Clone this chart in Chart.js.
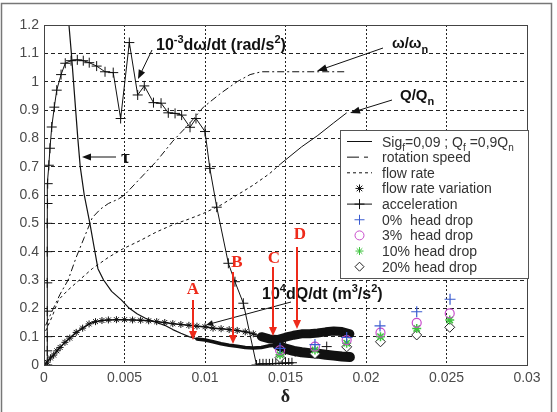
<!DOCTYPE html>
<html>
<head>
<meta charset="utf-8">
<script src="https://cdn.jsdelivr.net/npm/chart.js@4.4.1/dist/chart.umd.min.js"></script>
<style>
  body { margin: 0; background: #fff; }
  #wrap { position: relative; width: 557px; height: 412px; }
</style>
</head>
<body>
<div id="wrap"><canvas id="myChart"></canvas></div>
<script>
// axis ticks
var xTicks = [0, 0.005, 0.01, 0.015, 0.02, 0.025, 0.03];
var xTickLabels = ["0", "0.005", "0.01", "0.015", "0.02", "0.025", "0.03"];
var yTicks = [0, 0.1, 0.2, 0.3, 0.4, 0.5, 0.6, 0.7, 0.8, 0.9, 1, 1.1, 1.2];
var yTickLabels = ["0", "0.1", "0.2", "0.3", "0.4", "0.5", "0.6", "0.7", "0.8", "0.9", "1", "1.1", "1.2"];

// series, [delta, value]
var tauPts = [
  [0.00155, 1.2], [0.0017, 1.1], [0.0019, 0.95], [0.0021, 0.8], [0.00225, 0.7], [0.0025, 0.6],
  [0.00285, 0.5], [0.0031, 0.42], [0.00335, 0.34], [0.0037, 0.3], [0.0042, 0.26], [0.0048, 0.23],
  [0.0053, 0.2], [0.0058, 0.18], [0.0063, 0.165], [0.007, 0.15], [0.0075, 0.14], [0.008, 0.125],
  [0.0085, 0.112], [0.009, 0.1], [0.0095, 0.092], [0.01, 0.088], [0.0105, 0.082], [0.011, 0.075],
  [0.0115, 0.07], [0.012, 0.066], [0.0125, 0.062], [0.013, 0.06], [0.0135, 0.062], [0.014, 0.068],
  [0.0145, 0.07], [0.015, 0.058], [0.0155, 0.05], [0.016, 0.045], [0.0165, 0.042], [0.017, 0.04],
  [0.0175, 0.036], [0.018, 0.033], [0.0185, 0.03], [0.019, 0.028]
];
var rotationPts = [
  [0.0001, 0.14], [0.0005, 0.19], [0.001, 0.25], [0.0015, 0.3], [0.002, 0.38], [0.0025, 0.45],
  [0.003, 0.52], [0.0035, 0.55], [0.004, 0.57], [0.0046, 0.585], [0.005, 0.6], [0.006, 0.66],
  [0.007, 0.72], [0.008, 0.79], [0.009, 0.85], [0.0099, 0.91], [0.011, 0.96], [0.012, 1.0],
  [0.0128, 1.025], [0.0135, 1.035], [0.0188, 1.035]
];
var flowPts = [
  [0.0001, 0.12], [0.0005, 0.17], [0.0009, 0.23], [0.0015, 0.265], [0.0022, 0.3], [0.003, 0.34],
  [0.004, 0.38], [0.0049, 0.41], [0.006, 0.44], [0.007, 0.47], [0.008, 0.495], [0.009, 0.515],
  [0.0099, 0.535], [0.011, 0.565], [0.012, 0.6], [0.013, 0.635], [0.014, 0.675], [0.0147, 0.71],
  [0.016, 0.77], [0.017, 0.81], [0.018, 0.855], [0.0188, 0.89]
];
var flowVarPts = [
  [0, 0], [0.0002, 0.01], [0.0004, 0.025], [0.0006, 0.035], [0.0008, 0.05], [0.001, 0.062],
  [0.0013, 0.08], [0.0016, 0.095], [0.002, 0.115], [0.0024, 0.13], [0.0028, 0.145], [0.0032, 0.153],
  [0.0036, 0.157], [0.004, 0.159], [0.0045, 0.16], [0.005, 0.16], [0.0055, 0.159], [0.006, 0.158],
  [0.0065, 0.156], [0.007, 0.153], [0.0075, 0.15], [0.008, 0.146], [0.0085, 0.143], [0.009, 0.14],
  [0.0095, 0.137], [0.01, 0.135], [0.0105, 0.13], [0.011, 0.128], [0.0115, 0.125], [0.012, 0.122],
  [0.0125, 0.117], [0.013, 0.11], [0.0135, 0.1], [0.014, 0.092], [0.0145, 0.09], [0.015, 0.098],
  [0.0155, 0.105], [0.016, 0.11], [0.0165, 0.11], [0.017, 0.113], [0.0175, 0.117], [0.018, 0.12],
  [0.0185, 0.118], [0.019, 0.11]
];
var accelPts = [
  [0.0002, 0.0], [0.0002, 0.05], [0.0002, 0.1], [0.0002, 0.19], [0.0002, 0.29], [0.0002, 0.4],
  [0.0002, 0.5], [0.00022, 0.57], [0.00023, 0.64], [0.0003, 0.705], [0.00037, 0.765], [0.00048, 0.84],
  [0.00064, 0.91], [0.00079, 0.97], [0.00106, 1.025], [0.00132, 1.065], [0.00168, 1.074], [0.00207, 1.077],
  [0.00244, 1.074], [0.00281, 1.067], [0.00327, 1.055], [0.00379, 1.035], [0.0043, 1.032], [0.00476, 0.87],
  [0.0053, 1.138], [0.00582, 0.953], [0.00623, 0.985], [0.0068, 0.926], [0.00727, 0.924], [0.00772, 0.89],
  [0.00814, 0.888], [0.00855, 0.882], [0.00907, 0.839], [0.00944, 0.87], [0.01, 0.824], [0.0103, 0.694],
  [0.01073, 0.557], [0.01145, 0.359], [0.01186, 0.294], [0.01238, 0.218], [0.0132, 0.0],
  [0.0134, 0.004], [0.0136, 0.004], [0.0138, 0.004], [0.014, 0.004], [0.0142, 0.005], [0.0144, 0.005],
  [0.0146, 0.006], [0.0148, 0.006], [0.015, 0.007], [0.0152, 0.007], [0.0154, 0.008],
  [0.0156, 0.047], [0.01756, 0.065]
];
var drop0Pts = [[0.01466, 0.059], [0.01683, 0.072], [0.0188, 0.097], [0.02087, 0.138], [0.02315, 0.188], [0.02522, 0.232]];
var drop3Pts = [[0.01466, 0.052], [0.01683, 0.065], [0.0188, 0.088], [0.0209, 0.114], [0.02315, 0.149], [0.0252, 0.182]];
var drop10Pts = [[0.01466, 0.036], [0.01683, 0.053], [0.0188, 0.077], [0.0209, 0.1], [0.02315, 0.129], [0.0252, 0.159]];
var drop20Pts = [[0.01466, 0.026], [0.01683, 0.04], [0.0188, 0.064], [0.0209, 0.082], [0.02315, 0.106], [0.0252, 0.133]];

var legendLabels = [
  [["Sig", ""], ["f", "sub"], ["=0,09 ; Q", ""], ["f", "sub"], [" =0,9Q", ""], ["n", "sub"]],
  [["rotation speed", ""]],
  [["flow rate", ""]],
  [["flow rate variation", ""]],
  [["acceleration", ""]],
  [["0%  head drop", ""]],
  [["3%  head drop", ""]],
  [["10% head drop", ""]],
  [["20% head drop", ""]]
];

var SANS = "'Liberation Sans', Arial, sans-serif";
var SERIF = "'Liberation Serif', 'Times New Roman', serif";
var RED = "#ee2a1a";

function pts(a) {
  return a.map(function (p) { return { x: p[0], y: p[1] }; });
}

function rich(ctx, x, y, parts, size, weight, family, color) {
  ctx.save();
  ctx.fillStyle = color;
  ctx.textBaseline = "alphabetic";
  ctx.textAlign = "left";
  parts.forEach(function (p) {
    var s = p[1] ? Math.round(size * 0.7) : size;
    var dy = p[1] === "sup" ? -size * 0.42 : p[1] === "sub" ? size * 0.3 : 0;
    ctx.font = weight + " " + s + "px " + family;
    ctx.fillText(p[0], x, y + dy);
    x += ctx.measureText(p[0]).width;
  });
  ctx.restore();
  return x;
}

function arrow(ctx, x1, y1, x2, y2, color, lw, hl, hw) {
  var a = Math.atan2(y2 - y1, x2 - x1);
  var c = Math.cos(a), s = Math.sin(a);
  ctx.save();
  ctx.strokeStyle = color;
  ctx.fillStyle = color;
  ctx.lineWidth = lw;
  ctx.beginPath();
  ctx.moveTo(x1, y1);
  ctx.lineTo(x2 - c * hl * 0.8, y2 - s * hl * 0.8);
  ctx.stroke();
  ctx.beginPath();
  ctx.moveTo(x2, y2);
  ctx.lineTo(x2 - hl * c + hw * s, y2 - hl * s - hw * c);
  ctx.lineTo(x2 - hl * c - hw * s, y2 - hl * s + hw * c);
  ctx.closePath();
  ctx.fill();
  ctx.restore();
}

function marker(ctx, style, x, y, r, color) {
  ctx.save();
  ctx.strokeStyle = color;
  ctx.lineWidth = 1;
  ctx.beginPath();
  if (style === "cross" || style === "star") {
    ctx.moveTo(x - r, y); ctx.lineTo(x + r, y);
    ctx.moveTo(x, y - r); ctx.lineTo(x, y + r);
  }
  if (style === "star") {
    var d = r * 0.7;
    ctx.moveTo(x - d, y - d); ctx.lineTo(x + d, y + d);
    ctx.moveTo(x - d, y + d); ctx.lineTo(x + d, y - d);
  }
  if (style === "circle") ctx.arc(x, y, r, 0, Math.PI * 2);
  if (style === "rectRot") {
    ctx.moveTo(x, y - r); ctx.lineTo(x + r, y); ctx.lineTo(x, y + r); ctx.lineTo(x - r, y); ctx.closePath();
  }
  ctx.stroke();
  ctx.restore();
}

var extras = {
  id: "extras",
  afterDraw: function (chart) {
    var ctx = chart.ctx;
    var a = chart.chartArea;

    // plot frame
    ctx.save();
    ctx.strokeStyle = "#444";
    ctx.lineWidth = 1;
    ctx.strokeRect(a.left + 0.5, a.top + 0.5, a.right - a.left, a.bottom - a.top);
    // outer figure frame
    ctx.strokeStyle = "#777";
    ctx.lineWidth = 1.5;
    ctx.strokeRect(1.5, 3.5, 550, 430);
    ctx.restore();

    // black annotations
    rich(ctx, 156, 50, [["10", ""], ["-3", "sup"], ["d\u03c9/dt (rad/s", ""], ["2", "sup"], [")", ""]], 16, "bold", SANS, "#111");
    arrow(ctx, 152, 50, 138, 79, "#111", 1, 9, 3.5);
    rich(ctx, 121, 163, [["\u03c4", ""]], 19, "bold", SERIF, "#111");
    arrow(ctx, 116, 157, 82, 157, "#111", 1, 9, 3.5);
    rich(ctx, 392, 48, [["\u03c9/\u03c9", ""], ["n", "sub"]], 15, "bold", SANS, "#111");
    arrow(ctx, 383, 48, 317, 71, "#111", 1, 10, 3.5);
    rich(ctx, 400, 100, [["Q/Q", ""], ["n", "sub"]], 15, "bold", SANS, "#111");
    arrow(ctx, 392, 100, 350, 113, "#111", 1, 10, 3.5);
    rich(ctx, 262, 299, [["10", ""], ["4", "sup"], ["dQ/dt (m", ""], ["3", "sup"], ["/s", ""], ["2", "sup"], [")", ""]], 16, "bold", SANS, "#111");
    arrow(ctx, 291, 302, 206, 325, "#111", 1, 7, 3);

    // red markers A-D: letter, letter x, letter y, arrow x, arrow top, arrow tip
    var reds = [["A", 193, 290, 193, 300, 340], ["B", 237, 263, 233, 272, 344], ["C", 274, 259, 273, 267, 336], ["D", 300, 235, 297, 247, 329]];
    reds.forEach(function (r) {
      ctx.save();
      ctx.fillStyle = RED;
      ctx.font = "bold 17px " + SERIF;
      ctx.textAlign = "center";
      ctx.textBaseline = "middle";
      ctx.fillText(r[0], r[1], r[2]);
      ctx.restore();
      arrow(ctx, r[3], r[4], r[3], r[5], RED, 2, 9, 4);
    });

    // legend
    ctx.save();
    ctx.fillStyle = "#fff";
    ctx.fillRect(340, 130, 188, 148);
    ctx.strokeStyle = "#555";
    ctx.lineWidth = 1;
    ctx.strokeRect(340.5, 130.5, 188, 148);
    ctx.restore();
    var sx1 = 347, sx2 = 372, mx = 359.5;
    legendLabels.forEach(function (parts, i) {
      var y = 141.5 + i * 15.65;
      ctx.save();
      ctx.strokeStyle = "#111";
      ctx.lineWidth = 1;
      if (i < 3 || i === 4) {
        ctx.setLineDash(i === 1 ? [12, 5, 4, 5] : i === 2 ? [3, 3] : []);
        ctx.beginPath();
        ctx.moveTo(sx1, y);
        ctx.lineTo(sx2, y);
        ctx.stroke();
      }
      ctx.restore();
      if (i === 3) marker(ctx, "star", mx, y, 4, "#111");
      if (i === 4) marker(ctx, "cross", mx, y, 5, "#111");
      if (i === 5) marker(ctx, "cross", mx, y, 5, "#3a5bd0");
      if (i === 6) marker(ctx, "circle", mx, y, 4.5, "#c94ccc");
      if (i === 7) marker(ctx, "star", mx, y, 4, "#3ec43e");
      if (i === 8) marker(ctx, "rectRot", mx, y, 4.5, "#222");
      rich(ctx, 382, y + 5, parts, 14, "normal", SANS, "#333");
    });
  }
};

var ctx = document.getElementById("myChart").getContext("2d");
var myChart = new Chart(ctx, {
  type: "line",
  data: {
    datasets: [
      {
        label: "0% head drop",
        data: pts(drop0Pts),
        showLine: false,
        pointStyle: "cross",
        pointRadius: 5.5,
        borderColor: "#3a5bd0",
        borderWidth: 1.2,
        order: 0,
      },
      {
        label: "3% head drop",
        data: pts(drop3Pts),
        showLine: false,
        pointStyle: "circle",
        pointRadius: 4.5,
        borderColor: "#c94ccc",
        backgroundColor: "rgba(0,0,0,0)",
        borderWidth: 1.2,
        order: 0,
      },
      {
        label: "10% head drop",
        data: pts(drop10Pts),
        showLine: false,
        pointStyle: "star",
        pointRadius: 4.5,
        borderColor: "#3ec43e",
        borderWidth: 1.5,
        order: 0,
      },
      {
        label: "20% head drop",
        data: pts(drop20Pts),
        showLine: false,
        pointStyle: "rectRot",
        pointRadius: 5,
        borderColor: "#222",
        backgroundColor: "#fff",
        borderWidth: 1,
        order: 0,
      },
      {
        label: "acceleration",
        data: pts(accelPts),
        borderColor: "#111",
        borderWidth: 1,
        pointStyle: "cross",
        pointRadius: 5,
        pointBorderWidth: 1,
        pointBorderColor: "#111",
        segment: {
          borderColor: function (c) { return c.p0.parsed.x >= 0.0153 ? "rgba(0,0,0,0)" : "#111"; },
        },
        order: 2,
      },
      {
        label: "flow rate variation",
        data: pts(flowVarPts),
        borderColor: "#111",
        borderWidth: 1.5,
        borderJoinStyle: "round",
        borderCapStyle: "round",
        pointStyle: "star",
        pointRadius: 3.5,
        pointBorderWidth: 1,
        pointBorderColor: "#111",
        segment: {
          borderWidth: function (c) { return c.p0.parsed.x >= 0.0135 ? 9 : 1.5; },
        },
        order: 3,
      },
      {
        label: "Sig_f=0,09 ; Q_f =0,9Q_n",
        data: pts(tauPts),
        borderColor: "#111",
        borderWidth: 1.2,
        borderJoinStyle: "round",
        borderCapStyle: "round",
        pointRadius: 0,
        segment: {
          borderWidth: function (c) {
            var x = c.p0.parsed.x;
            return x >= 0.0145 ? 10 : x >= 0.0095 ? 3.5 : 1.2;
          },
        },
        order: 3,
      },
      {
        label: "rotation speed",
        data: pts(rotationPts),
        borderColor: "#111",
        borderWidth: 1,
        borderDash: [7, 3, 2, 3],
        pointRadius: 0,
        order: 4,
      },
      {
        label: "flow rate",
        data: pts(flowPts),
        borderColor: "#111",
        borderWidth: 1,
        borderDash: [3, 3],
        pointRadius: 0,
        segment: {
          borderDash: function (c) { return c.p0.parsed.x >= 0.0147 ? [] : [3, 3]; },
        },
        order: 4,
      },
    ],
  },
  options: {
    responsive: true,
    maintainAspectRatio: false,
    animation: false,
    layout: { padding: { top: 25, right: 30, left: 0, bottom: 0 } },
    plugins: { legend: { display: false }, tooltip: { enabled: false } },
    scales: {
      x: {
        type: "linear",
        min: 0,
        max: 0.03,
        afterBuildTicks: function (s) { s.ticks = xTicks.map(function (v) { return { value: v }; }); },
        afterFit: function (s) { s.height = 47; },
        ticks: {
          autoSkip: false,
          maxRotation: 0,
          padding: 5,
          color: "#4a4a4a",
          font: { family: SANS, size: 14 },
          callback: function (v, i) { return xTickLabels[i]; },
        },
        grid: { color: "#222", lineWidth: 1, drawTicks: false },
        border: { display: false, dash: [2, 2] },
        title: {
          display: true,
          text: "\u03b4",
          color: "#222",
          font: { family: SERIF, size: 18, weight: "bold" },
          padding: { top: 0, bottom: 4 },
        },
      },
      y: {
        min: 0,
        max: 1.2,
        afterBuildTicks: function (s) { s.ticks = yTicks.map(function (v) { return { value: v }; }); },
        afterFit: function (s) { s.width = 44; },
        ticks: {
          padding: 5,
          color: "#4a4a4a",
          font: { family: SANS, size: 14 },
          callback: function (v, i) { return yTickLabels[i]; },
        },
        grid: { color: "#222", lineWidth: 1, drawTicks: false },
        border: { display: false, dash: [4, 3] },
      },
    },
  },
  plugins: [extras],
});
</script>
</body>
</html>
